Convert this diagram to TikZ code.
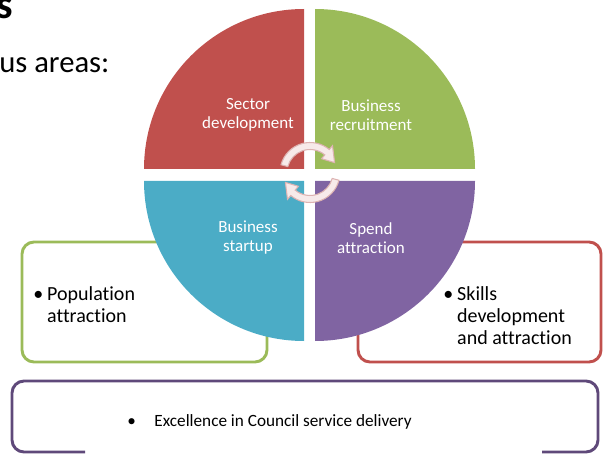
\documentclass[tikz,border=0pt]{standalone}
\usepackage{fontspec}
\setmainfont{Carlito}[Ligatures=NoCommon]
\usetikzlibrary{positioning}

\definecolor{secred}{HTML}{C0504D}
\definecolor{busgreen}{HTML}{9BBB59}
\definecolor{startblue}{HTML}{4BACC6}
\definecolor{spendpurple}{HTML}{8064A2}
\definecolor{edgepurple}{HTML}{5F497A}
\definecolor{cyclefill}{HTML}{F7EAEA}
\definecolor{cycleline}{HTML}{DDB3B2}

\begin{document}
\begin{tikzpicture}[
              x=0.75pt, y=0.75pt,
              qlabel/.style={text=white, align=center, inner sep=0,
                font=\fontsize{12.75}{14.25}\selectfont},
              boxtext/.style={inner sep=0, align=left,
                font=\fontsize{15}{16.5}\selectfont},
              areabox/.style={line width=2.2pt, rounded corners=9pt},
              cyclearrow/.style={fill=cyclefill, draw=cycleline, line width=0.8pt}
            ]
            \useasboundingbox (0,0) rectangle (603,454);

            % Heading
            \node[anchor=base east, inner sep=0, font=\fontsize{31}{36}\selectfont\bfseries] (head) at (13,435) {s};
            \node[anchor=base west, inner sep=0, font=\fontsize{23}{26}\selectfont] (areas) at (-1,381) {us areas:};

            % Side boxes (behind the circle)
            \draw[areabox, busgreen] (22,212) rectangle (267,92);
            \draw[areabox, secred] (358,212) rectangle (601,92);
            \draw[areabox, edgepurple] (85,2) -- (12,2) -- (12,73) -- (598,73) -- (598,2) -- (542,2);

            % Quarters
            \fill[secred] (304,285) -- ++(-160,0) arc (180:90:160) -- cycle;
            \fill[busgreen] (315,285) -- ++(0,160) arc (90:0:160) -- cycle;
            \fill[startblue] (304,273) -- ++(-160,0) arc (180:270:160) -- cycle;
            \fill[spendpurple] (315,273) -- ++(160,0) arc (0:-90:160) -- cycle;

            % Cycle arrows
            \foreach \rot in {0,180} {
              \begin{scope}[shift={(310,281.5)}, rotate=\rot]
                \filldraw[cyclearrow] (165:30) arc (165:50:30) -- (50:35) -- (22:26.5)
                  -- (50:18) -- (50:23) arc (50:165:23) -- cycle;
              \end{scope}
            }

            % Labels
            \node[qlabel] (sector) at (248,339) {Sector\\development};
            \node[qlabel] (recruit) at (371,339) {Business\\recruitment};
            \node[qlabel] (startup) at (248,216) {Business\\startup};
            \node[qlabel] (spend) at (371,216) {Spend\\attraction};

            \node[boxtext, anchor=west] (population) at (33,147)
              {\begin{tabular}{@{}l@{\hspace{3pt}}l@{}}\textbullet & Population\\ & attraction\end{tabular}};
            \node[boxtext, anchor=west] (skills) at (443,136)
              {\begin{tabular}{@{}l@{\hspace{3pt}}l@{}}\textbullet & Skills\\ & development\\ & and attraction\end{tabular}};
            \node[inner sep=0, anchor=west, font=\fontsize{12.9}{15}\selectfont] (council) at (127,32)
              {\textbullet\hspace{14pt}Excellence in Council service delivery};

            \end{tikzpicture}
\end{document}
